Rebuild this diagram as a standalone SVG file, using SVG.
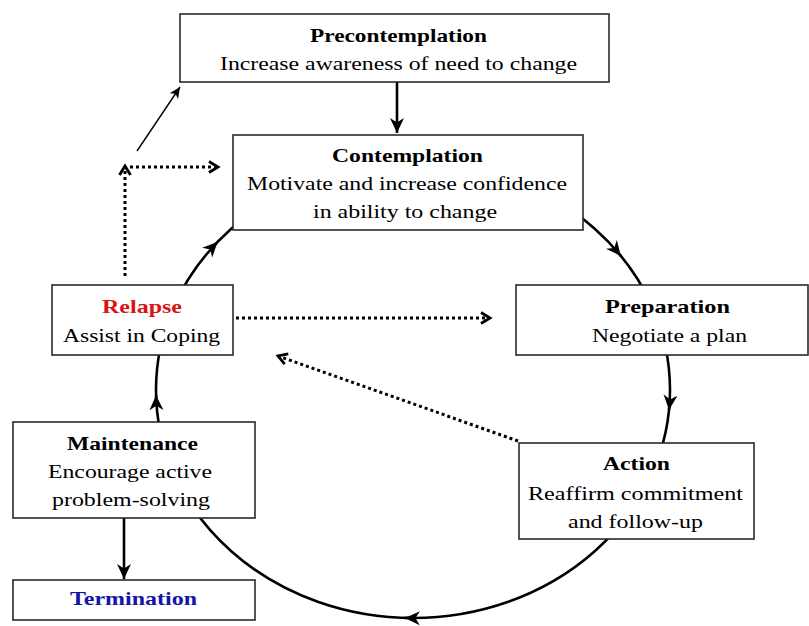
<svg xmlns="http://www.w3.org/2000/svg" width="809" height="626" viewBox="0 0 809 626">
<style>
.box{fill:#fff;stroke:#2a2a2a;stroke-width:1.6}
.t{font-family:"Liberation Serif","Times New Roman",serif;font-size:19px;font-weight:bold;fill:#000;text-anchor:middle}
.b{font-family:"Liberation Serif","Times New Roman",serif;font-size:19px;fill:#000;text-anchor:middle}
.solid{fill:none;stroke:#000;stroke-width:2.6}
.thin{fill:none;stroke:#000;stroke-width:1.4}
.dot{fill:none;stroke:#000;stroke-width:3;stroke-dasharray:3 3}
</style>
<defs>
<marker id="ah" markerUnits="userSpaceOnUse" markerWidth="18" markerHeight="16" refX="15" refY="8" orient="auto">
<path d="M0,1 L15,8 L0,15 L4.5,8 z" fill="#000"/>
</marker>
<marker id="ahs" markerUnits="userSpaceOnUse" markerWidth="14" markerHeight="12" refX="11" refY="6" orient="auto">
<path d="M0,1 L11,6 L0,11 L3,6 z" fill="#000"/>
</marker>
<marker id="chev" markerUnits="userSpaceOnUse" markerWidth="14" markerHeight="14" refX="11" refY="7" orient="auto">
<path d="M2,1.5 L11,7 L2,12.5" fill="none" stroke="#000" stroke-width="2.8"/>
</marker>
</defs>
<g id="connectors">
<ellipse cx="413" cy="390" rx="257" ry="228" class="solid"/>
<line x1="617.7" y1="252.1" x2="620.9" y2="256" class="solid" marker-end="url(#ah)"/>
<line x1="669.5" y1="404.9" x2="669.0" y2="409.9" class="solid" marker-end="url(#ah)"/>
<line x1="409.9" y1="618.0" x2="404.9" y2="617.9" class="solid" marker-end="url(#ah)"/>
<line x1="156.2" y1="400.2" x2="156.1" y2="395.2" class="solid" marker-end="url(#ah)"/>
<line x1="214.1" y1="245.5" x2="217.6" y2="241.9" class="solid" marker-end="url(#ah)"/>
<line x1="397" y1="82" x2="397" y2="133" class="solid" marker-end="url(#ah)"/>
<line x1="124" y1="518" x2="124" y2="579" class="solid" marker-end="url(#ah)"/>
<line x1="137" y1="151" x2="180" y2="87" class="thin" marker-end="url(#ahs)"/>
<line x1="125" y1="276" x2="125" y2="166" class="dot" marker-end="url(#chev)"/>
<line x1="130" y1="167" x2="218" y2="167" class="dot" marker-end="url(#chev)"/>
<line x1="236" y1="318" x2="490" y2="318" class="dot" marker-end="url(#chev)"/>
<line x1="518" y1="441" x2="278" y2="356" class="dot" marker-end="url(#chev)"/>
</g>
<g id="precontemplation">
<rect x="180" y="14" width="429" height="68" class="box"/>
<text x="398.5" y="42" class="t" textLength="177" lengthAdjust="spacingAndGlyphs">Precontemplation</text>
<text x="398.5" y="70" class="b" textLength="357" lengthAdjust="spacingAndGlyphs">Increase awareness of need to change</text>
</g>
<g id="contemplation">
<rect x="233" y="135" width="350" height="95" class="box"/>
<text x="407.5" y="162" class="t" textLength="151" lengthAdjust="spacingAndGlyphs">Contemplation</text>
<text x="407" y="190" class="b" textLength="320" lengthAdjust="spacingAndGlyphs">Motivate and increase confidence</text>
<text x="405" y="218" class="b" textLength="184" lengthAdjust="spacingAndGlyphs">in ability to change</text>
</g>
<g id="preparation">
<rect x="516" y="285" width="292" height="70" class="box"/>
<text x="667.5" y="313" class="t" textLength="125" lengthAdjust="spacingAndGlyphs">Preparation</text>
<text x="669.5" y="342" class="b" textLength="155" lengthAdjust="spacingAndGlyphs">Negotiate a plan</text>
</g>
<g id="relapse">
<rect x="52" y="285" width="181" height="70" class="box"/>
<text x="142" y="313" class="t" style="fill:#d81414" textLength="80" lengthAdjust="spacingAndGlyphs">Relapse</text>
<text x="141.5" y="342" class="b" textLength="157" lengthAdjust="spacingAndGlyphs">Assist in Coping</text>
</g>
<g id="action">
<rect x="519" y="443" width="235" height="96" class="box"/>
<text x="636.5" y="470" class="t" textLength="67" lengthAdjust="spacingAndGlyphs">Action</text>
<text x="635.5" y="500" class="b" textLength="215" lengthAdjust="spacingAndGlyphs">Reaffirm commitment</text>
<text x="635.5" y="528" class="b" textLength="135" lengthAdjust="spacingAndGlyphs">and follow-up</text>
</g>
<g id="maintenance">
<rect x="13" y="422" width="242" height="96" class="box"/>
<text x="132.5" y="450" class="t" textLength="131" lengthAdjust="spacingAndGlyphs">Maintenance</text>
<text x="130" y="478" class="b" textLength="164" lengthAdjust="spacingAndGlyphs">Encourage active</text>
<text x="131" y="506" class="b" textLength="158" lengthAdjust="spacingAndGlyphs">problem-solving</text>
</g>
<g id="termination">
<rect x="13" y="580" width="242" height="40" class="box"/>
<text x="133.5" y="605" class="t" style="fill:#1414a8" textLength="127" lengthAdjust="spacingAndGlyphs">Termination</text>
</g>
</svg>
